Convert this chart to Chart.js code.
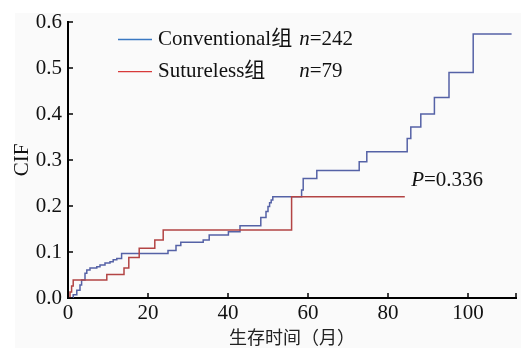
<!DOCTYPE html>
<html>
<head>
<meta charset="utf-8">
<script src="https://cdn.jsdelivr.net/npm/chart.js@4"></script>
<style>
  html, body { margin: 0; padding: 0; background: #fff; }
  #wrap { position: relative; width: 521px; height: 348px; }
  #bg { position: absolute; left: 15px; top: 13px; right: 0; bottom: 0; background: #fafafa; }
  canvas { position: absolute; left: 0; top: 0; }
</style>
</head>
<body>
<div id="wrap"><div id="bg"></div><canvas id="c" width="521" height="348"></canvas></div>
<script>
// cumulative incidence, step points (time in months -> CIF after the jump)
const convTime = [0, 1.3, 2.2, 3.0, 3.4, 4.25, 4.7, 5.5, 7.2, 8.0, 9.25, 10.5, 11.3, 12.2, 13.4,
  25, 27, 28.2, 33.8, 35.3, 40.1, 43, 48.2, 49.5, 50.0, 50.4, 50.8, 51.2,
  58.4, 58.8, 62.2, 72.8, 74.7, 84.8, 85.7, 88.2, 91.6, 95.25, 101.3, 110.9];
const convCIF = [0, 0.007, 0.017, 0.028, 0.039, 0.054, 0.061, 0.065, 0.068, 0.072, 0.076, 0.079, 0.083, 0.086, 0.097,
  0.103, 0.114, 0.121, 0.126, 0.137, 0.144, 0.157, 0.175, 0.188, 0.199, 0.207, 0.213, 0.22,
  0.235, 0.26, 0.277, 0.296, 0.318, 0.347, 0.372, 0.4, 0.436, 0.49, 0.574, 0.574];
const sutTime = [0, 0.5, 0.9, 1.3, 9.7, 14.0, 15.2, 17.8, 21.7, 23.8, 55.9, 84.2];
const sutCIF = [0, 0.013, 0.026, 0.039, 0.051, 0.065, 0.088, 0.108, 0.126, 0.148, 0.22, 0.22];

const xTicks = [0, 20, 40, 60, 80, 100];
const yTicks = [0, 0.1, 0.2, 0.3, 0.4, 0.5, 0.6];
const groups = ["Conventional组", "Sutureless组"];
const groupN = [242, 79];
const pText = "0.336";

const SERIF = '"Liberation Serif", "Times New Roman", "Noto Sans CJK SC", serif';
const toXY = (t, v) => t.map((x, i) => ({ x, y: v[i] }));

// inward ticks + legend + P value, drawn from the chart's scales
const extras = {
  id: "extras",
  afterDraw(chart) {
    const { ctx, chartArea: a, scales: { x, y } } = chart;
    ctx.save();
    ctx.strokeStyle = "#000"; ctx.lineWidth = 1.5;
    xTicks.concat([x.max]).forEach(v => {
      const px = x.getPixelForValue(v);
      ctx.beginPath(); ctx.moveTo(px, a.bottom); ctx.lineTo(px, a.bottom - 5); ctx.stroke();
    });
    yTicks.forEach(v => {
      const py = y.getPixelForValue(v);
      ctx.beginPath(); ctx.moveTo(a.left, py); ctx.lineTo(a.left + 5, py); ctx.stroke();
    });
    // legend
    const legCol = ["#3a78c2", "#d83a3a"];
    const lx0 = x.getPixelForValue(12.5), lx1 = x.getPixelForValue(21), tx = x.getPixelForValue(22.5), nx = x.getPixelForValue(57.8);
    const ly = [y.getPixelForValue(0.562), y.getPixelForValue(0.492)];
    ctx.textBaseline = "middle";
    groups.forEach((g, i) => {
      ctx.strokeStyle = legCol[i]; ctx.lineWidth = 1.3;
      ctx.beginPath(); ctx.moveTo(lx0, ly[i]); ctx.lineTo(lx1, ly[i]); ctx.stroke();
      ctx.fillStyle = "#111";
      ctx.font = "21px " + SERIF; ctx.textAlign = "left";
      ctx.fillText(g, tx, ly[i]);
      ctx.font = "italic 21px " + SERIF;
      ctx.fillText("n", nx, ly[i]);
      const w = ctx.measureText("n").width;
      ctx.font = "21px " + SERIF;
      ctx.fillText("=" + groupN[i], nx + w, ly[i]);
    });
    // P value
    const px = x.getPixelForValue(85.8), py = y.getPixelForValue(0.256);
    ctx.font = "italic 21px " + SERIF;
    ctx.fillText("P", px, py);
    const pw = ctx.measureText("P").width;
    ctx.font = "21px " + SERIF;
    ctx.fillText("=" + pText, px + pw, py);
    ctx.restore();
  },
};

new Chart(document.getElementById("c"), {
  type: "line",
  data: {
    datasets: [
      { label: groups[1], data: toXY(sutTime, sutCIF), borderColor: "#b34444", borderWidth: 1.5, stepped: "before", pointRadius: 0 },
      { label: groups[0], data: toXY(convTime, convCIF), borderColor: "#5562a6", borderWidth: 1.5, stepped: "before", pointRadius: 0 },
    ],
  },
  options: {
    responsive: false, animation: false,
    layout: { padding: { top: 22, right: 5, left: 0, bottom: 0 } },
    plugins: { legend: { display: false }, tooltip: { enabled: false } },
    scales: {
      x: {
        type: "linear", min: 0, max: 112,
        afterFit: s => { s.height = 50; },
        afterBuildTicks: s => { s.ticks = xTicks.map(v => ({ value: v })); },
        grid: { display: false, drawTicks: false, tickLength: 0 },
        border: { display: true, color: "#000", width: 2 },
        ticks: { color: "#111", padding: 3, maxRotation: 0, font: { family: SERIF, size: 21 } },
        title: { display: true, text: "生存时间（月）", color: "#222", padding: { top: 0, bottom: 0 },
          font: { family: '"Noto Sans CJK SC", sans-serif', size: 18 } },
      },
      y: {
        min: 0, max: 0.6,
        afterFit: s => { s.width = 68; },
        afterBuildTicks: s => { s.ticks = yTicks.map(v => ({ value: v })); },
        grid: { display: false, drawTicks: false, tickLength: 0 },
        border: { display: true, color: "#000", width: 2 },
        ticks: { color: "#111", padding: 6, callback: v => v.toFixed(1), font: { family: SERIF, size: 21 } },
        title: { display: true, text: "CIF", color: "#111", padding: { top: 10, bottom: 0 }, font: { family: SERIF, size: 21 } },
      },
    },
  },
  plugins: [extras],
});
</script>
</body>
</html>
